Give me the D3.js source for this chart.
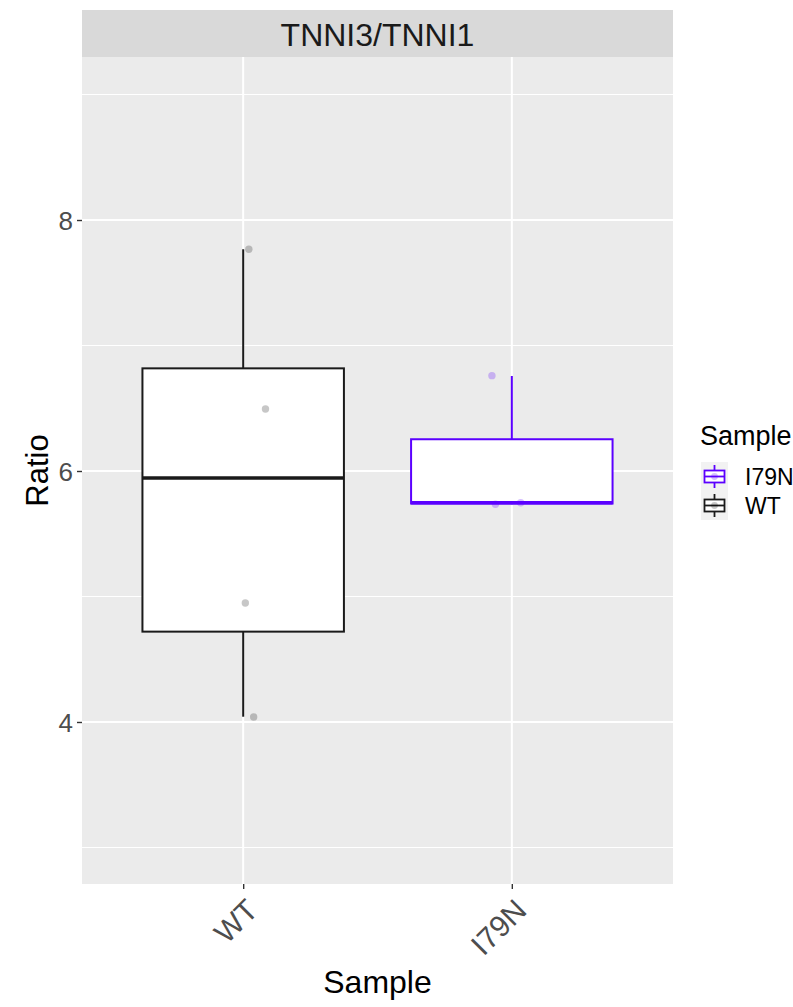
<!DOCTYPE html>
<html>
<head>
<meta charset="utf-8">
<script src="https://cdn.jsdelivr.net/npm/d3@7"></script>
<style>
  html, body { margin: 0; padding: 0; background: #ffffff; }
  svg { display: block; font-family: "Liberation Sans", Arial, sans-serif; }
</style>
</head>
<body>
<svg id="chart" width="793" height="1007"></svg>
<script>
// ---- data ----
const categories = ["WT", "I79N"];
const boxLower  = [4.042, 5.735];
const boxQ1     = [4.720, 5.741];
const boxMedian = [5.944, 5.747];
const boxQ3     = [6.818, 6.253];
const boxUpper  = [7.767, 6.757];

const pointSample  = ["WT", "WT", "WT", "WT", "I79N", "I79N", "I79N"];
const pointJitter  = [0.021, 0.083, 0.008, 0.039, -0.074, -0.061, 0.033];
const pointValue   = [7.767, 6.494, 4.948, 4.040, 6.760, 5.735, 5.747];

const yTicks = [4, 6, 8];
const yMinor = [3, 5, 7, 9];
const legendOrder = ["I79N", "WT"];
const colors = { WT: "#1a1a1a", I79N: "#5b00ff" };
const pointColors = { WT: "rgba(0,0,0,0.22)", I79N: "rgba(91,0,255,0.25)" };
const stripTitle = "TNNI3/TNNI1";

// ---- layout ----
const panel = { left: 82, right: 673, top: 57, bottom: 884 };
const svg = d3.select("#chart");

const x = d3.scalePoint().domain(categories).range([panel.left, panel.right]).padding(0.6);
const y = d3.scaleLinear().domain([2.709, 9.299]).range([panel.bottom, panel.top]);
const step = x.step();
const boxW = step * 0.75;

// strip
svg.append("rect").attr("x", panel.left).attr("y", 10)
  .attr("width", panel.right - panel.left).attr("height", panel.top - 10)
  .attr("fill", "#d9d9d9");
svg.append("text").attr("x", (panel.left + panel.right) / 2).attr("y", 46)
  .attr("text-anchor", "middle").attr("font-size", 32).attr("fill", "#1a1a1a")
  .text(stripTitle);

// panel
svg.append("rect").attr("x", panel.left).attr("y", panel.top)
  .attr("width", panel.right - panel.left).attr("height", panel.bottom - panel.top)
  .attr("fill", "#ebebeb");

const grid = svg.append("g");
grid.selectAll(".minor").data(yMinor).enter().append("line")
  .attr("x1", panel.left).attr("x2", panel.right)
  .attr("y1", d => y(d)).attr("y2", d => y(d))
  .attr("stroke", "#ffffff").attr("stroke-width", 1);
grid.selectAll(".major").data(yTicks).enter().append("line")
  .attr("x1", panel.left).attr("x2", panel.right)
  .attr("y1", d => y(d)).attr("y2", d => y(d))
  .attr("stroke", "#ffffff").attr("stroke-width", 2);
grid.selectAll(".vmajor").data(categories).enter().append("line")
  .attr("x1", d => x(d)).attr("x2", d => x(d))
  .attr("y1", panel.top).attr("y2", panel.bottom)
  .attr("stroke", "#ffffff").attr("stroke-width", 2);

// boxes
const boxes = categories.map((c, i) => ({
  c, lower: boxLower[i], q1: boxQ1[i], med: boxMedian[i], q3: boxQ3[i], upper: boxUpper[i]
}));
const bg = svg.append("g");
boxes.forEach(b => {
  const cx = x(b.c);
  const col = colors[b.c];
  bg.append("line").attr("x1", cx).attr("x2", cx).attr("y1", y(b.upper)).attr("y2", y(b.q3))
    .attr("stroke", col).attr("stroke-width", 2);
  bg.append("line").attr("x1", cx).attr("x2", cx).attr("y1", y(b.q1)).attr("y2", y(b.lower))
    .attr("stroke", col).attr("stroke-width", 2);
  bg.append("rect").attr("x", cx - boxW / 2).attr("y", y(b.q3))
    .attr("width", boxW).attr("height", y(b.q1) - y(b.q3))
    .attr("fill", "#ffffff").attr("stroke", col).attr("stroke-width", 2);
  bg.append("line").attr("x1", cx - boxW / 2).attr("x2", cx + boxW / 2)
    .attr("y1", y(b.med)).attr("y2", y(b.med))
    .attr("stroke", col).attr("stroke-width", 3.4);
});

// points
svg.append("g").selectAll("circle").data(pointValue.map((v, i) => ({ v, s: pointSample[i], j: pointJitter[i] })))
  .enter().append("circle")
  .attr("cx", d => x(d.s) + d.j * step)
  .attr("cy", d => y(d.v))
  .attr("r", 3.7)
  .attr("fill", d => pointColors[d.s]);

// y axis
const yAxis = svg.append("g").attr("transform", `translate(${panel.left},0)`)
  .call(d3.axisLeft(y).tickValues(yTicks).tickSize(5).tickPadding(4).tickFormat(d3.format("d")));
yAxis.select(".domain").remove();
yAxis.selectAll(".tick line").attr("stroke", "#333333").attr("stroke-width", 1.4);
yAxis.selectAll(".tick text").attr("font-size", 26).attr("fill", "#4d4d4d")
  .attr("font-family", "Liberation Sans, Arial, sans-serif").attr("dy", "0.36em");

// x axis
const xAxis = svg.append("g").attr("transform", `translate(0,${panel.bottom})`)
  .call(d3.axisBottom(x).tickSize(5).tickPadding(0));
xAxis.select(".domain").remove();
xAxis.selectAll(".tick line").attr("stroke", "#333333").attr("stroke-width", 1.4);
xAxis.selectAll(".tick text")
  .attr("font-size", 30).attr("fill", "#4d4d4d")
  .attr("font-family", "Liberation Sans, Arial, sans-serif")
  .attr("text-anchor", "end")
  .attr("y", 0)
  .attr("transform", "translate(-3,9) rotate(-45)")
  .attr("dy", "0.9em");

// axis titles
svg.append("text").attr("x", (panel.left + panel.right) / 2).attr("y", 993)
  .attr("text-anchor", "middle").attr("font-size", 32).attr("fill", "#000")
  .text("Sample");
svg.append("text").attr("transform", `translate(48,${(panel.top + panel.bottom) / 2}) rotate(-90)`)
  .attr("text-anchor", "middle").attr("font-size", 31).attr("fill", "#000")
  .text("Ratio");

// legend
const lg = svg.append("g");
lg.append("text").attr("x", 700).attr("y", 445).attr("font-size", 27).attr("fill", "#000").text("Sample");
const keyX = 701, keyW = 27, keyH = 29, keyTop = 462;
legendOrder.forEach((c, i) => {
  const ky = keyTop + i * keyH;
  const cx = keyX + keyW / 2, cy = ky + keyH / 2;
  const col = colors[c];
  lg.append("rect").attr("x", keyX).attr("y", ky).attr("width", keyW).attr("height", keyH).attr("fill", "#f2f2f2");
  lg.append("line").attr("x1", cx).attr("x2", cx).attr("y1", ky + 3).attr("y2", ky + keyH - 3)
    .attr("stroke", col).attr("stroke-width", 1.8);
  lg.append("rect").attr("x", keyX + 3.5).attr("y", cy - 6).attr("width", keyW - 7).attr("height", 12)
    .attr("fill", "#ffffff").attr("stroke", col).attr("stroke-width", 1.8);
  lg.append("line").attr("x1", keyX + 3.5).attr("x2", keyX + keyW - 3.5).attr("y1", cy).attr("y2", cy)
    .attr("stroke", col).attr("stroke-width", 1.8);
  lg.append("circle").attr("cx", cx).attr("cy", cy).attr("r", 3.4).attr("fill", pointColors[c]);
  lg.append("text").attr("x", 745).attr("y", cy).attr("dy", "0.36em")
    .attr("font-size", 23).attr("fill", "#000").text(c);
});
</script>
</body>
</html>
